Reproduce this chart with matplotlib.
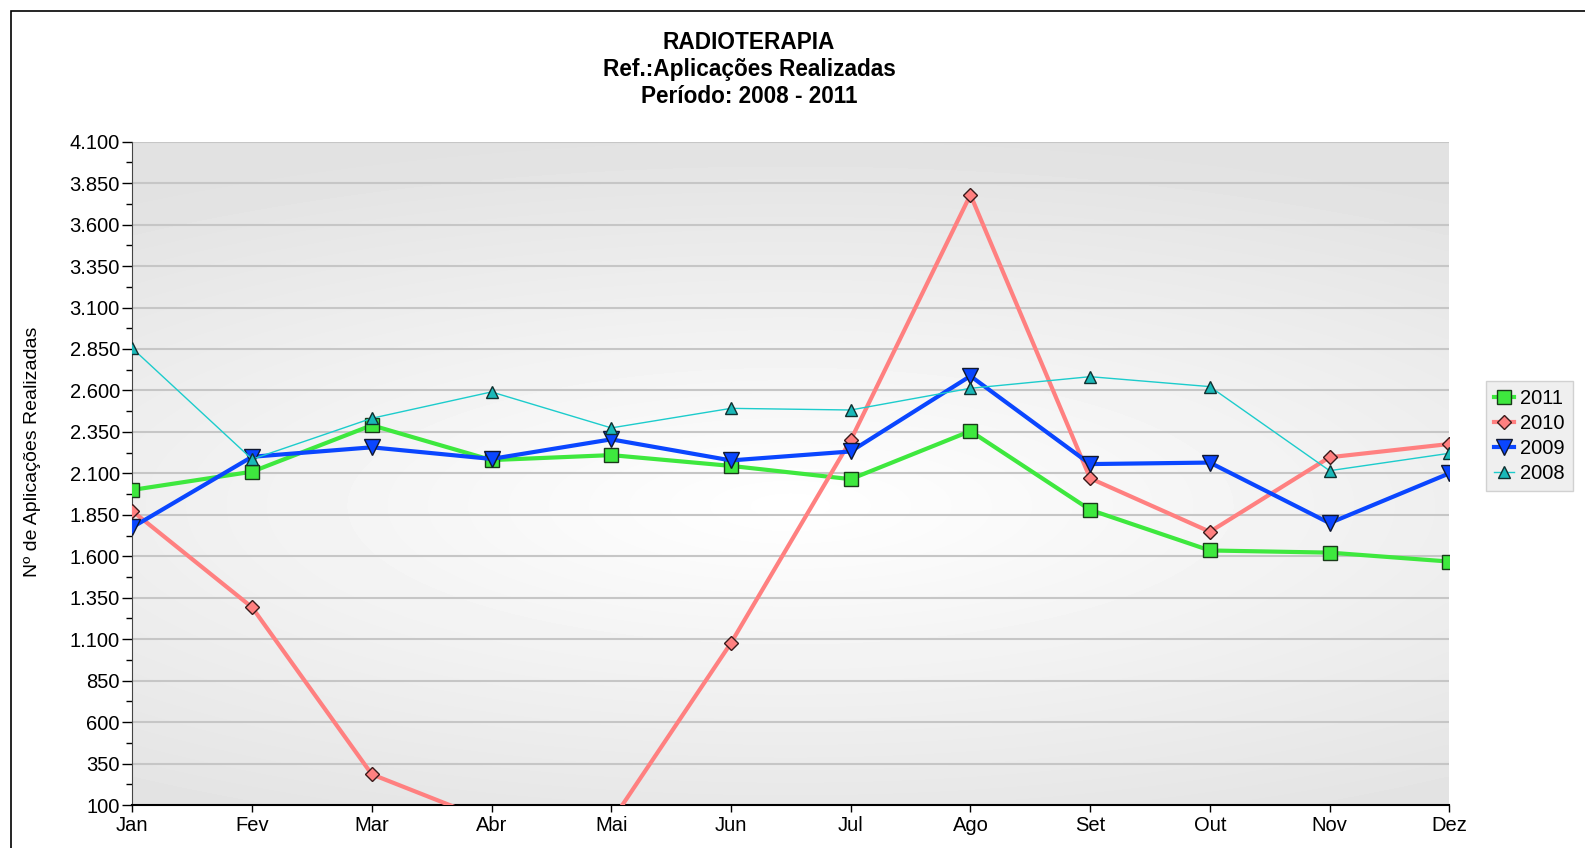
import numpy as np
import matplotlib
matplotlib.use('Agg')
import matplotlib.pyplot as plt
from matplotlib.patches import Rectangle

plt.rcParams['font.family'] = ['Liberation Sans', 'DejaVu Sans']

months = ['Jan', 'Fev', 'Mar', 'Abr', 'Mai', 'Jun', 'Jul', 'Ago', 'Set', 'Out', 'Nov', 'Dez']
v2011 = [2000, 2110, 2390, 2180, 2210, 2145, 2065, 2355, 1880, 1635, 1622, 1568]
v2010 = [1873, 1292, 285, 0, 0, 1077, 2300, 3780, 2070, 1748, 2197, 2277]
v2009 = [1775, 2200, 2257, 2187, 2305, 2178, 2232, 2687, 2156, 2165, 1800, 2100]
v2008 = [2854, 2185, 2432, 2591, 2374, 2492, 2482, 2613, 2683, 2623, 2116, 2221]
yticks = list(range(100, 4101, 250))

fig = plt.figure(figsize=(15.85, 8.48), dpi=100)
fig.patches.append(Rectangle((11/1585, -0.1), 1.2, 1 - 11/848 + 0.1, transform=fig.transFigure,
                             fill=False, edgecolor='black', linewidth=1.2))
ax = fig.add_axes([0.0835, 0.0507, 0.8309, 0.7822])
x = np.arange(len(months))

# gradient background
gx, gy = np.meshgrid(np.linspace(-1, 1, 300), np.linspace(-1, 1, 200))
r = np.sqrt(gx**2 * 0.5 + (gy + 0.1)**2 * 1.3)
bg = 1 - 0.09 * np.clip(r, 0, 1.3)
ax.imshow(bg, cmap='gray', vmin=0, vmax=1, extent=[0, 11, 100, 4100], aspect='auto', zorder=0,
          origin='lower', interpolation='bicubic')

for yv in yticks[1:]:
    ax.axhline(yv, color='#c6c6c6', lw=1.5, zorder=1)

ax.plot(x, v2011, color='#3ee83e', lw=3, marker='s', ms=10, mfc='#3ee83e', mec='#1a3a1a', mew=1,
        label='2011', zorder=3)
ax.plot(x, v2010, color='#ff8080', lw=3, marker='D', ms=7.5, mfc='#ff8080', mec='#3a1a1a', mew=1,
        label='2010', zorder=4)
ax.plot(x, v2009, color='#0a46ff', lw=3, marker='v', ms=12, mfc='#0a46ff', mec='#101830', mew=1,
        label='2009', zorder=5)
ax.plot(x, v2008, color='#1ccccc', lw=1, marker='^', ms=8, mfc='#1ab8b8', mec='#103030', mew=1,
        label='2008', zorder=6)

ax.set_xlim(0, 11)
ax.set_ylim(100, 4100)
ax.set_xticks(x)
ax.set_xticklabels(months, fontsize=14.5)
ax.set_yticks(yticks)
ax.set_yticklabels(['{:,}'.format(v).replace(',', '.') for v in yticks], fontsize=14.5)
ax.set_yticks(list(range(225, 4100, 250)), minor=True)
ax.tick_params(axis='y', which='major', length=7, width=1, direction='out', pad=2)
ax.tick_params(axis='y', which='minor', length=4, width=1, direction='out')
ax.tick_params(axis='x', length=5, width=1, direction='out', pad=3)
for s in ['top', 'right']:
    ax.spines[s].set_visible(False)
ax.spines['left'].set_color('#444444')
ax.spines['bottom'].set_linewidth(1.5)
ax.set_ylabel('Nº de Aplicações Realizadas', fontsize=14)
ax.yaxis.set_label_coords(-0.069, 0.532)

fig.text(0.4726, 0.963, 'RADIOTERAPIA\nRef.:Aplicações Realizadas\nPeríodo: 2008 - 2011',
         ha='center', va='top', fontsize=16.3, fontweight='bold', linespacing=1.22)

leg = ax.legend(loc='upper left', bbox_to_anchor=(1.028, 0.639), fontsize=14.5, frameon=True,
                fancybox=False, handlelength=1.0, handletextpad=0.3, borderpad=0.4,
                labelspacing=0.3, borderaxespad=0, markerscale=1.0)
leg.get_frame().set_facecolor('#ececec')
leg.get_frame().set_edgecolor('#c8c8c8')

fig.savefig('out.png', dpi=100)
